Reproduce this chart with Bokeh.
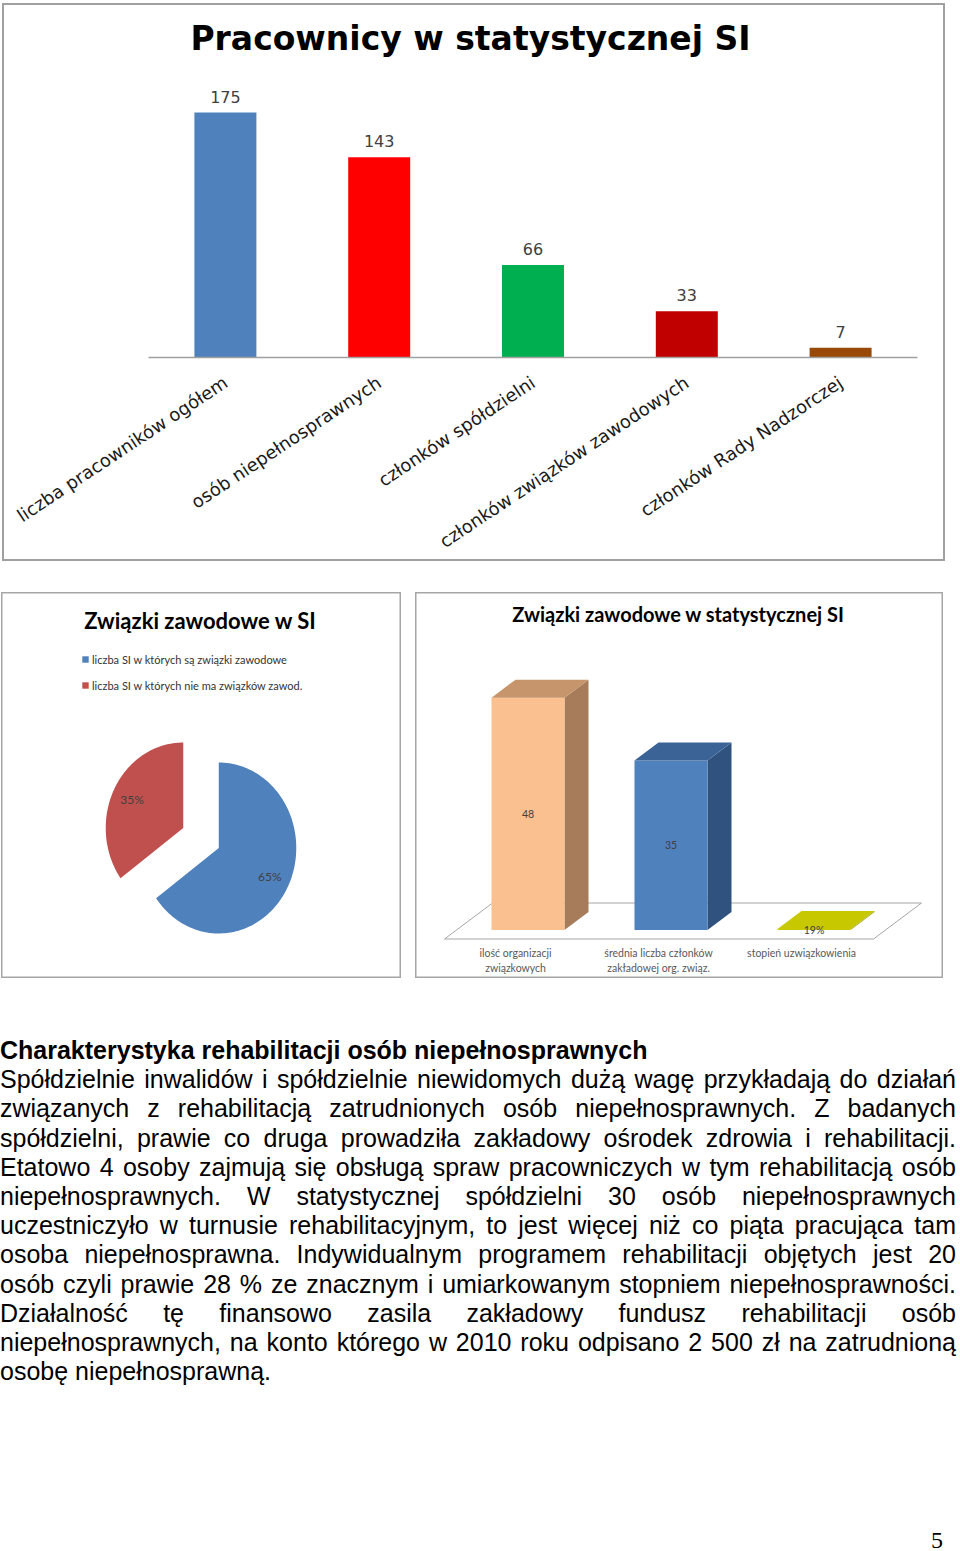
import numpy as np
from bokeh.plotting import figure
from bokeh.models import (FactorRange, Range1d, ColumnDataSource, Legend, LegendItem,
                          Div, Spacer)
from bokeh.layouts import column, row
from bokeh.core.properties import value
from bokeh.embed import file_html
from bokeh.resources import INLINE

# ---------------- data ----------------
staff_title = "Pracownicy w statystycznej SI"
staff_categories = ["liczba pracowników ogółem", "osób niepełnosprawnych", "członków spółdzielni",
                    "członków związków zawodowych", "członków Rady Nadzorczej"]
staff_values = [175, 143, 66, 33, 7]
staff_colors = ["#4F81BD", "#FF0000", "#00B050", "#C00000", "#984807"]

union_title = "Związki zawodowe w SI"
union_labels = ["liczba SI w których są związki zawodowe",
                "liczba SI w których nie ma związków zawod."]
union_shares = [65, 35]
union_colors = ["#4F81BD", "#C0504D"]

stat_title = "Związki zawodowe w statystycznej SI"
stat_categories = ["ilość organizacji\nzwiązkowych",
                   "średnia liczba członków\nzakładowej org. związ.",
                   "stopień uzwiązkowienia"]
stat_values = [48, 35, 0.19]
stat_labels = ["48", "35", "19%"]
stat_front = ["#FAC090", "#4F81BD", "#C8C800"]
stat_side = ["#A67C5B", "#30527F", "#9A9A00"]
stat_top = ["#C6956B", "#3B6396", "#C8C800"]

heading = "Charakterystyka rehabilitacji osób niepełnosprawnych"
body_lines = [
    "Spółdzielnie inwalidów i spółdzielnie niewidomych dużą wagę przykładają do działań",
    "związanych z rehabilitacją zatrudnionych osób niepełnosprawnych. Z badanych",
    "spółdzielni, prawie co druga prowadziła zakładowy ośrodek zdrowia i rehabilitacji.",
    "Etatowo 4 osoby zajmują się obsługą spraw pracowniczych w tym rehabilitacją osób",
    "niepełnosprawnych. W statystycznej spółdzielni 30 osób niepełnosprawnych",
    "uczestniczyło w turnusie rehabilitacyjnym, to jest więcej niż co piąta pracująca tam",
    "osoba niepełnosprawna. Indywidualnym programem rehabilitacji objętych jest 20",
    "osób czyli prawie 28 % ze znacznym i umiarkowanym stopniem niepełnosprawności.",
    "Działalność tę finansowo zasila zakładowy fundusz rehabilitacji osób",
    "niepełnosprawnych, na konto którego w 2010 roku odpisano 2 500 zł na zatrudnioną",
    "osobę niepełnosprawną.",
]
page_number = "5"

# ---------------- chart 1: bar chart ----------------
W1, H1, B1 = 943, 558, 2
ch1 = H1 - 2 * B1
fl, fr, fb = 144, 913, 352          # frame left / right / axis position (px)
ppu = 1.4                           # px per unit
catw = (fr - fl) / len(staff_categories)
p1 = figure(x_range=FactorRange(*staff_categories), y_range=Range1d(0, fb / ppu),
            width=W1, height=H1, min_border_left=fl, min_border_right=W1 - fr,
            min_border_top=0, min_border_bottom=ch1 - fb,
            output_backend="svg", toolbar_location=None)
src1 = ColumnDataSource(dict(cat=staff_categories, val=staff_values, col=staff_colors,
                             lbl=[str(v) for v in staff_values]))
p1.vbar(x="cat", top="val", width=0.403, fill_color="col", line_color=None, source=src1)
p1.text(x="cat", y="val", text="lbl", source=src1, y_offset=-16, text_align="center",
        text_baseline="middle", text_font=value("DejaVu Sans"), text_font_size="16px",
        text_color="#404040")
p1.text(x=[(466 - fl) / catw], y=[(fb - 33) / ppu], text=[staff_title],
        text_align="center", text_baseline="middle", text_font=value("DejaVu Sans"),
        text_font_style="bold", text_font_size="33px", text_color="#000000")
p1.yaxis.visible = False
p1.grid.visible = False
p1.outline_line_color = None
ax = p1.xaxis[0]
ax.axis_line_color = "#A0A0A0"
ax.axis_line_width = 1.5
ax.major_tick_line_color = None
ax.minor_tick_line_color = None
ax.major_label_orientation = 0.585
ax.major_label_standoff = 17
ax.major_label_text_font = "DejaVu Sans"
ax.major_label_text_font_size = "18px"
ax.major_label_text_color = "#1a1a1a"
p1.styles = {"border": f"{B1}px solid #A0A0A0"}

# ---------------- chart 2: exploded pie ----------------
W2, H2 = 400, 386
p2 = figure(width=W2, height=H2, x_range=Range1d(0, W2), y_range=Range1d(H2, 0),
            min_border=0, output_backend="svg", toolbar_location=None)
p2.axis.visible = False
p2.grid.visible = False
p2.outline_line_color = "#A6A6A6"
p2.outline_line_width = 2
p2.text(x=[W2 / 2 - 1], y=[28], text=[union_title], text_align="center",
        text_baseline="middle", text_font=value("Lato"), text_font_style="bold",
        text_font_size="22px", text_color="#000000")

cx, cy, rx, ry, explode = 199.5, 245.5, 77.5, 85.5, 22
total = float(sum(union_shares))
start = 0.0
items = []
lx, ly, lt = [], [], []
for share, col, lab in zip(union_shares, union_colors, union_labels):
    a0, a1 = start, start + share / total * 2 * np.pi
    mid = (a0 + a1) / 2
    ox = cx + explode * np.sin(mid) * rx / ry
    oy = cy - explode * np.cos(mid)
    t = np.linspace(a0, a1, 120)
    xs = [ox] + list(ox + rx * np.sin(t))
    ys = [oy] + list(oy - ry * np.cos(t))
    r = p2.patch(xs, ys, fill_color=col, line_color=None)
    items.append(LegendItem(label=lab, renderers=[r]))
    lx.append(ox + 0.74 * rx * np.sin(mid))
    ly.append(oy - 0.74 * ry * np.cos(mid))
    lt.append(f"{share}%")
    start = a1
p2.text(x=lx, y=ly, text=lt, text_align="center", text_baseline="middle",
        text_font=value("Lato"), text_font_size="12px", text_color="#404040")
leg = Legend(items=items, location=(80, H2 - 100), padding=0, margin=0, spacing=12,
             glyph_width=8, glyph_height=8, label_height=14, label_standoff=3,
             border_line_color=None, background_fill_alpha=0,
             label_text_font="Lato", label_text_font_size="11px", label_text_color="#333333")
p2.add_layout(leg)

# ---------------- chart 3: 3D columns ----------------
W3, H3 = 528, 386
pxx, pxy = 143.0, 4.84
x0, y0 = 124.5, 337.5
p3 = figure(width=W3, height=H3, x_range=Range1d(-x0 / pxx, (W3 - x0) / pxx),
            y_range=Range1d(-(H3 - y0) / pxy, y0 / pxy),
            min_border=0, output_backend="svg", toolbar_location=None)
p3.axis.visible = False
p3.grid.visible = False
p3.outline_line_color = "#A6A6A6"
p3.outline_line_width = 2
p3.text(x=[(263 - x0) / pxx], y=[(y0 - 21.5) / pxy], text=[stat_title], text_align="center",
        text_baseline="middle", text_font=value("Lato"), text_font_style="bold",
        text_font_size="20px", text_color="#000000")

n = len(stat_values)
dx, dy = 24 / pxx, 18 / pxy
bw = 73 / pxx
# floor
p3.patch([-0.5 - dx, n - 0.5 - dx, n - 0.5 + dx, -0.5 + dx],
         [-dy / 2, -dy / 2, 1.5 * dy, 1.5 * dy],
         fill_color="white", line_color="#A6A6A6", line_width=1)
xf = [i - dx / 2 for i in range(n)]
side_xs, side_ys, top_xs, top_ys = [], [], [], []
for xc, v in zip(xf, stat_values):
    xl, xr = xc - bw / 2, xc + bw / 2
    side_xs.append([xr, xr + dx, xr + dx, xr])
    side_ys.append([0, dy, v + dy, v])
    top_xs.append([xl, xr, xr + dx, xl + dx])
    top_ys.append([v, v, v + dy, v + dy])
p3.patches(side_xs, side_ys, fill_color=stat_side, line_color=None)
p3.vbar(x=xf, top=stat_values, bottom=0, width=bw, fill_color=stat_front, line_color=None)
p3.patches(top_xs, top_ys, fill_color=stat_top, line_color=None)
p3.text(x=xf, y=[v / 2 for v in stat_values], text=stat_labels, text_align="center",
        text_baseline="middle", text_font=value("Lato"), text_font_size="10.5px",
        text_color="#404040")
p3.text(x=[i - 0.171 for i in range(n)], y=[-3.6] * n, text=stat_categories,
        text_align="center", text_baseline="top", text_font=value("Lato"),
        text_font_size="10.5px", text_color="#595959", text_line_height=1.25)

# ---------------- text ----------------
lines_html = "".join(
    f'<div style="text-align:justify;text-align-last:justify;">{ln}</div>' for ln in body_lines[:-1]
) + f'<div style="text-align:left;">{body_lines[-1]}</div>'
text_div = Div(
    text=("<div style=\"font-family:'Liberation Sans',Arial,sans-serif;font-size:25px;"
          "line-height:29.2px;color:#000;width:956px;\">"
          f"<div style=\"font-weight:bold;\">{heading}</div>{lines_html}</div>"),
    width=956, height=356, margin=0)
num_div = Div(
    text=("<div style=\"font-family:'Liberation Serif','Times New Roman',serif;font-size:24px;"
          f"text-align:right;width:943px;line-height:20px;\">{page_number}</div>"),
    width=944, height=20, margin=0)

layout = column(Spacer(height=3),
                row(Spacer(width=2), p1),
                Spacer(height=31),
                row(Spacer(width=1), p2, Spacer(width=14), p3),
                Spacer(height=58), text_div, Spacer(height=138), num_div)

open("out.html", "w").write(file_html(layout, INLINE))
